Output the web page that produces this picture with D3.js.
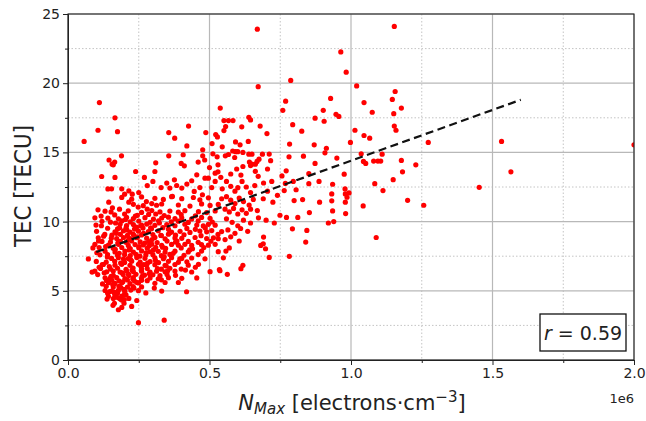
<!DOCTYPE html>
<html><head><meta charset="utf-8">
<script src="https://cdn.jsdelivr.net/npm/d3@7"></script>
<style>
body{margin:0;background:#fff}
svg{display:block}
text{font-family:"DejaVu Sans",sans-serif;fill:#222}
</style>
</head><body>
<svg id="chart" width="646" height="421"></svg>
<script>
// ---- data (NMax in units of 1e6 electrons/cm^3, TEC in TECU) ----
const xMajorTicks = [0, 0.5, 1.0, 1.5, 2.0];
const xMinorTicks = [0.25, 0.75, 1.25, 1.75];
const yMajorTicks = [0, 5, 10, 15, 20, 25];
const yMinorTicks = [2.5, 7.5, 12.5, 17.5, 22.5];
const fitStart = [0.1, 7.8];
const fitEnd = [1.6, 18.8];
const rValue = "0.59";

const sparsePoints = [
[2.0,15.55],[1.153,24.1],[0.669,23.9],[0.964,22.26],[0.983,20.8],[0.787,20.2],[1.02,19.8],[0.672,19.75],[1.156,19.4],[0.928,18.9],[1.146,18.83],[1.046,18.6],[0.769,18.7],[0.111,18.6],[1.178,18.2],[0.538,18.2],[0.759,18.04],[0.902,18.04],[1.075,17.9],[1.151,17.8],[0.947,17.75],[0.957,17.6],[0.166,17.5],[0.873,17.47],[0.639,17.54],[0.645,17.35],[0.551,17.3],[0.567,17.3],[0.583,17.3],[0.905,17.25],[0.794,17.0],[0.426,16.9],[0.679,16.9],[0.614,16.85],[1.153,16.9],[0.557,16.87],[1.159,16.6],[0.106,16.6],[0.175,16.5],[1.014,16.6],[0.826,16.53],[0.487,16.43],[0.356,16.43],[0.551,16.58],[0.703,16.36],[0.522,16.29],[1.046,16.22],[0.528,16.12],[1.066,16.03],[0.377,16.03],[1.532,15.79],[0.057,15.79],[1.273,15.72],[0.998,15.72],[0.783,15.6],[0.509,15.64],[0.87,15.55],[0.42,15.47],[0.637,15.79],[0.608,15.55],[0.592,15.76],[0.476,15.19],[0.545,15.4]
];

const rightPoints = [
[1.149,13.03],[1.453,12.48],[1.565,13.6],[1.257,11.18],[1.229,14.1],[1.2,11.54],[1.178,14.42],[1.182,13.6],[1.113,12.24],[1.089,8.85],[1.08,14.37],[1.095,14.37],[1.105,14.37],[1.11,14.87],[1.084,12.74],[1.036,14.9],[1.044,14.35],[1.052,14.2],[1.043,11.13],[0.976,13.43],[0.979,12.36],[0.98,12.0],[0.993,12.07],[0.986,11.76],[0.98,11.4],[0.981,10.58],[0.935,12.7],[0.932,12.0],[0.932,11.5],[0.935,10.77],[0.939,10.0],[0.92,9.9],[0.95,14.59],[0.913,15.3],[0.908,14.97],[0.889,11.4],[0.887,12.9],[0.873,14.2],[0.851,13.46],[0.851,12.74],[0.853,10.65],[0.844,9.36],[0.84,8.52],[0.812,10.3],[0.829,11.59],[0.832,14.73],[0.806,12.3],[0.799,11.52],[0.796,12.9],[0.793,9.48],[0.781,14.68],[0.782,7.49],[0.772,10.3],[0.771,13.67],[0.768,12.76],[0.756,13.3],[0.764,12.24],[0.749,10.46],[0.729,9.9],[0.724,11.4],[0.74,11.9],[0.711,7.41],[0.698,8.04],[0.691,8.88],[0.69,8.4],[0.681,8.28],[0.705,13.8],[0.711,14.88],[0.716,14.4],[0.691,12.79],[0.669,10.8],[0.673,10.27],[0.675,14.51]
];

const midPoints = [
[0.582,15.1],[0.592,15.05],[0.6,15.05],[0.556,14.75],[0.567,14.85],[0.589,14.63],[0.618,15.0],[0.639,14.87],[0.65,14.87],[0.641,14.3],[0.65,14.15],[0.662,14.15],[0.645,14.05],[0.668,14.35],[0.687,14.87],[0.618,13.98],[0.596,13.8],[0.575,13.44],[0.611,13.36],[0.662,13.63],[0.672,13.27],
[0.56,12.9],[0.575,12.55],[0.59,12.2],[0.6,12.45],[0.615,12.9],[0.63,12.5],[0.645,12.1],[0.66,12.6],[0.56,11.8],[0.575,11.55],[0.59,11.3],[0.605,11.7],[0.62,11.45],[0.64,11.2],[0.655,11.6],[0.555,10.9],[0.57,10.7],[0.585,10.95],[0.6,10.55],[0.615,10.85],[0.63,10.6],[0.645,10.9],[0.56,10.2],[0.58,9.95],[0.6,9.7],[0.62,10.1],[0.645,9.9],[0.565,9.4],[0.59,9.15],[0.61,9.5],[0.635,9.3],[0.555,8.7],[0.575,8.9],[0.605,8.6],[0.558,7.87],[0.57,8.1],[0.618,6.84],[0.611,6.6],[0.563,6.19],[0.535,6.53],[0.72,12.9],[0.705,12.2],[0.69,11.65],[0.7,10.1],
[0.189,14.75],[0.145,14.45],[0.156,14.15],[0.165,14.3],[0.407,14.83],[0.356,14.75],[0.31,14.25],[0.4,14.2],[0.476,14.75],[0.483,14.45],[0.512,14.9],[0.527,14.68],[0.16,14.1],[0.411,14.03],[0.46,14.3],[0.53,14.1],[0.5,13.9],[0.52,13.5],[0.54,13.2],
[0.239,13.62],[0.307,13.62],[0.119,13.26],[0.166,13.19],[0.27,13.19],[0.376,13.02],[0.455,13.38],[0.484,13.14],[0.496,13.14],[0.437,12.95],[0.154,12.37],[0.19,12.37],[0.215,12.22],[0.2,11.98],[0.227,11.98],[0.329,12.46],[0.349,12.78],[0.36,12.42],[0.384,12.61],[0.402,12.42],[0.42,12.71],[0.446,12.18],[0.466,12.46],[0.508,12.46],[0.545,12.37],[0.475,11.94],[0.369,11.82],[0.141,12.36],[0.25,12.1],[0.28,12.6],[0.3,12.9],[0.52,12.9],[0.53,13.6]
];

const clusterPoints = [
[.19,11.75],[.225,11.62],[.26,11.78],[.307,11.68],[.337,11.6],[.366,11.8],[.402,11.66],[.443,11.74],[.466,11.58],[.496,11.72],[.543,11.65],
[.231,11.25],[.266,11.15],[.296,11.3],[.313,11.18],[.331,11.27],[.39,11.2],[.431,11.12],[.472,11.28],[.502,11.17],[.531,11.24],
[.131,10.75],[.152,10.7],[.213,10.78],[.26,10.66],[.296,10.8],[.325,10.7],[.36,10.76],[.39,10.68],[.413,10.79],[.461,10.72],[.49,10.65],[.52,10.77],
[.165,10.48],[.2,10.55],[.245,10.45],[.285,10.52],[.34,10.44],[.4,10.5],[.45,10.42],
[.095,10.27],[.178,10.2],[.207,10.3],[.231,10.22],[.272,10.28],[.302,10.18],[.331,10.26],[.355,10.32],[.378,10.21],[.402,10.27],[.437,10.19],[.472,10.3],[.502,10.24],
[.12,10.02],[.15,9.96],[.19,10.05],[.22,9.98],[.25,10.04],[.29,9.95],[.32,10.06],[.365,9.99],[.39,10.03],[.425,9.94],[.46,10.05],[.51,9.97],
[.184,9.8],[.207,9.72],[.231,9.79],[.26,9.74],[.278,9.82],[.307,9.73],[.349,9.78],[.378,9.7],[.413,9.81],[.455,9.75],[.478,9.69],[.496,9.8],[.52,9.74],
[.14,9.52],[.175,9.47],[.205,9.55],[.235,9.46],[.265,9.53],[.295,9.48],[.335,9.56],[.355,9.45],[.42,9.51],[.45,9.44],[.485,9.54],
[.101,9.3],[.166,9.26],[.196,9.33],[.219,9.24],[.249,9.31],[.284,9.27],[.319,9.34],[.366,9.25],[.396,9.3],[.431,9.22],[.466,9.32],[.49,9.26],[.508,9.35],[.543,9.28],
[.13,9.07],[.155,9.02],[.185,9.08],[.21,9.0],[.23,9.1],[.26,9.03],[.3,9.06],[.33,8.99],[.355,9.09],[.38,9.02],[.41,9.05],[.47,8.98],[.53,9.07],
[.107,8.83],[.172,8.78],[.196,8.85],[.219,8.77],[.243,8.84],[.278,8.8],[.307,8.86],[.343,8.76],[.378,8.82],[.402,8.79],[.449,8.85],[.49,8.78],[.514,8.83],[.531,8.76],
[.12,8.57],[.15,8.52],[.185,8.58],[.205,8.5],[.225,8.6],[.255,8.53],[.285,8.56],[.315,8.49],[.35,8.59],[.38,8.52],[.425,8.57],[.46,8.5],[.505,8.58],
[.095,8.35],[.143,8.3],[.178,8.36],[.213,8.28],[.237,8.34],[.266,8.31],[.296,8.37],[.331,8.29],[.366,8.35],[.39,8.3],[.413,8.36],[.437,8.28],[.472,8.33],[.496,8.3],[.52,8.36],
[.11,8.12],[.16,8.07],[.19,8.13],[.22,8.05],[.25,8.11],[.28,8.08],[.31,8.14],[.345,8.06],[.4,8.1],[.44,8.04],[.48,8.12],
[.131,7.86],[.166,7.81],[.201,7.87],[.231,7.8],[.26,7.88],[.29,7.82],[.319,7.85],[.343,7.79],[.378,7.86],[.425,7.81],[.472,7.87],[.531,7.83],
[.14,7.62],[.175,7.57],[.2,7.63],[.22,7.55],[.24,7.64],[.275,7.58],[.3,7.61],[.33,7.54],[.36,7.63],[.41,7.57],[.46,7.62],
[.072,7.3],[.154,7.34],[.178,7.39],[.213,7.33],[.243,7.4],[.272,7.35],[.307,7.38],[.337,7.32],[.366,7.39],[.402,7.34],[.437,7.37],[.484,7.31],[.549,7.38],
[.1,7.12],[.135,7.07],[.165,7.13],[.2,7.05],[.225,7.14],[.255,7.08],[.29,7.11],[.32,7.04],[.355,7.13],[.39,7.06],[.42,7.1],
[.125,6.9],[.166,6.85],[.19,6.91],[.219,6.84],[.249,6.92],[.278,6.86],[.307,6.89],[.343,6.83],[.378,6.9],[.425,6.85],[.461,6.91],
[.115,6.62],[.15,6.57],[.175,6.63],[.205,6.55],[.23,6.64],[.26,6.58],[.28,6.61],[.33,6.56],[.36,6.63],[.4,6.57],
[.095,6.42],[.137,6.37],[.16,6.43],[.184,6.36],[.207,6.44],[.231,6.38],[.26,6.41],[.29,6.35],[.313,6.42],[.343,6.37],[.378,6.43],[.437,6.36],[.502,6.38],[.537,6.45],
[.105,6.17],[.16,6.12],[.195,6.18],[.215,6.1],[.24,6.19],[.27,6.13],[.3,6.16],[.325,6.09],[.35,6.18],[.38,6.12],
[.131,5.94],[.148,5.89],[.172,5.95],[.201,5.88],[.231,5.96],[.26,5.9],[.29,5.93],[.319,5.87],[.355,5.95],[.402,5.9],[.455,5.93],
[.155,5.77],[.18,5.72],[.21,5.78],[.235,5.7],[.26,5.76],[.28,5.73],[.33,5.79],
[.143,5.58],[.166,5.53],[.19,5.59],[.219,5.52],[.249,5.57],[.307,5.54],[.343,5.6],
[.135,5.32],[.16,5.27],[.18,5.33],[.21,5.26],[.23,5.31],[.26,5.28],
[.131,5.02],[.154,4.97],[.178,5.03],[.201,4.96],[.249,5.01],[.331,4.98],[.419,4.93],
[.14,4.82],[.165,4.77],[.175,4.83],[.2,4.78],
[.143,4.6],[.166,4.56],[.19,4.62],
[.16,4.44],[.18,4.48],[.185,4.4],
[.19,4.33],[.199,4.37],
[.225,3.87],[.178,3.63],[.249,2.7],[.34,2.88]
];

const denseCorePoints = [
[.118,9.7],[.126,8.95],[.133,8.2],[.139,7.45],[.146,6.75],[.152,6.05],[.158,5.45],[.163,4.9],[.168,9.9],[.171,9.15],[.176,8.45],[.181,7.7],[.186,7.0],[.191,6.3],[.194,5.65],[.197,5.1],[.203,10.15],[.208,9.4],[.212,8.65],[.216,7.95],[.221,7.25],[.226,6.5],[.229,5.85],[.233,5.2],[.238,10.4],[.242,9.6],[.246,8.9],[.251,8.2],[.254,7.5],[.258,6.75],[.262,6.05],[.267,9.15],[.271,8.45],[.276,7.75],[.281,7.0],[.287,6.25],[.292,9.55],[.297,8.7],[.302,7.95],[.309,7.2],[.316,6.6],[.323,9.9],[.328,9.0],[.334,8.15],[.34,7.45],[.347,6.8],[.121,6.9],[.128,6.3],[.113,7.6],[.108,8.6],[.117,10.4],[.141,10.25],[.157,11.0],[.182,10.9],[.215,11.4],[.248,11.05],[.277,11.45],[.147,4.95],[.172,4.55],[.186,5.25],[.205,4.7],[.222,5.05],[.198,4.1],[.215,4.45],[.159,3.95],[.243,4.3],[.19,3.8],[.136,5.75],[.122,5.5],[.11,6.7],[.102,7.75],[.099,9.75],[.106,10.85],[.088,8.1],[.085,6.35],[.144,11.4],[.28,10.9],[.31,10.55],[.36,9.2],[.385,8.6],[.372,7.7],[.395,7.3],[.43,7.95],[.415,6.5],[.45,6.7],[.39,5.6],[.305,5.2],[.275,4.85],[.352,6.45],[.233,9.0],[.257,9.7],[.287,8.25],[.196,7.3],[.167,8.0],[.153,8.8],[.182,9.55],[.214,6.2],[.244,5.6],[.268,6.9],[.138,4.4],[.164,4.1]
];

// ---- drawing ----
const allPoints = [].concat(sparsePoints, rightPoints, midPoints, clusterPoints, denseCorePoints);
const svg = d3.select("#chart");
const L = 68, R = 634, T = 14, B = 360;
const x = d3.scaleLinear().domain([0, 2]).range([L, R]);
const y = d3.scaleLinear().domain([0, 25]).range([B, T]);

svg.append("defs").append("clipPath").attr("id", "plotClip")
  .append("rect").attr("x", L).attr("y", T).attr("width", R - L).attr("height", B - T);

const grid = svg.append("g");
grid.selectAll(".xmin").data(xMinorTicks).join("line")
  .attr("x1", d => x(d)).attr("x2", d => x(d)).attr("y1", T).attr("y2", B)
  .attr("stroke", "#c4c4c4").attr("stroke-width", 1).attr("stroke-dasharray", "1.5,2");
grid.selectAll(".ymin").data(yMinorTicks).join("line")
  .attr("x1", L).attr("x2", R).attr("y1", d => y(d)).attr("y2", d => y(d))
  .attr("stroke", "#c4c4c4").attr("stroke-width", 1).attr("stroke-dasharray", "1.5,2");
grid.selectAll(".xmaj").data(xMajorTicks).join("line")
  .attr("x1", d => x(d)).attr("x2", d => x(d)).attr("y1", T).attr("y2", B)
  .attr("stroke", "#b8b8b8").attr("stroke-width", 1.2);
grid.selectAll(".ymaj").data(yMajorTicks).join("line")
  .attr("x1", L).attr("x2", R).attr("y1", d => y(d)).attr("y2", d => y(d))
  .attr("stroke", "#b8b8b8").attr("stroke-width", 1.2);

svg.append("g").attr("clip-path", "url(#plotClip)")
  .selectAll("circle").data(allPoints).join("circle")
  .attr("cx", d => x(d[0])).attr("cy", d => y(d[1])).attr("r", 2.6)
  .attr("fill", "#ff0000");

svg.append("line")
  .attr("x1", x(fitStart[0])).attr("y1", y(fitStart[1]))
  .attr("x2", x(fitEnd[0])).attr("y2", y(fitEnd[1]))
  .attr("stroke", "#111").attr("stroke-width", 2.2).attr("stroke-dasharray", "8,4.5");

svg.append("rect").attr("x", L).attr("y", T).attr("width", R - L).attr("height", B - T)
  .attr("fill", "none").attr("stroke", "#222").attr("stroke-width", 1.1);

const xAxis = svg.append("g").attr("transform", `translate(0,${B})`)
  .call(d3.axisBottom(x).tickValues(xMajorTicks).tickFormat(d3.format(".1f")).tickSize(5).tickSizeOuter(0).tickPadding(3));
const xAxisMinor = svg.append("g").attr("transform", `translate(0,${B})`)
  .call(d3.axisBottom(x).tickValues(xMinorTicks).tickFormat("").tickSize(3).tickSizeOuter(0));
const yAxis = svg.append("g").attr("transform", `translate(${L},0)`)
  .call(d3.axisLeft(y).tickValues(yMajorTicks).tickFormat(d3.format("d")).tickSize(5).tickSizeOuter(0).tickPadding(3));
const yAxisMinor = svg.append("g").attr("transform", `translate(${L},0)`)
  .call(d3.axisLeft(y).tickValues(yMinorTicks).tickFormat("").tickSize(3).tickSizeOuter(0));
[xAxis, xAxisMinor, yAxis, yAxisMinor].forEach(g => {
  g.select(".domain").attr("stroke", "#222");
  g.selectAll(".tick line").attr("stroke", "#222");
  g.selectAll(".tick text").attr("font-size", 14).attr("font-family", "DejaVu Sans").attr("fill", "#222");
});

svg.append("text").attr("x", R).attr("y", 403).attr("text-anchor", "end")
  .attr("font-size", 13).text("1e6");

const xt = svg.append("text").attr("x", 352).attr("y", 410).attr("text-anchor", "middle").attr("font-size", 21);
xt.append("tspan").attr("font-style", "italic").text("N");
xt.append("tspan").attr("font-style", "italic").attr("font-size", 15).attr("dy", 4).text("Max");
xt.append("tspan").attr("dy", -4).text(" [electrons·cm");
xt.append("tspan").attr("font-size", 15).attr("dy", -8).text("−3");
xt.append("tspan").attr("dy", 8).text("]");

svg.append("text").attr("transform", "translate(31,186) rotate(-90)")
  .attr("text-anchor", "middle").attr("font-size", 23)
  .attr("textLength", 122).attr("lengthAdjust", "spacingAndGlyphs").text("TEC [TECU]");

svg.append("rect").attr("x", 540).attr("y", 314).attr("width", 86).attr("height", 37)
  .attr("fill", "#fff").attr("stroke", "#111").attr("stroke-width", 1.3);
const rt = svg.append("text").attr("x", 583).attr("y", 340).attr("text-anchor", "middle").attr("font-size", 19);
rt.append("tspan").attr("font-style", "italic").text("r");
rt.append("tspan").text(" = " + rValue);
</script>
</body></html>
